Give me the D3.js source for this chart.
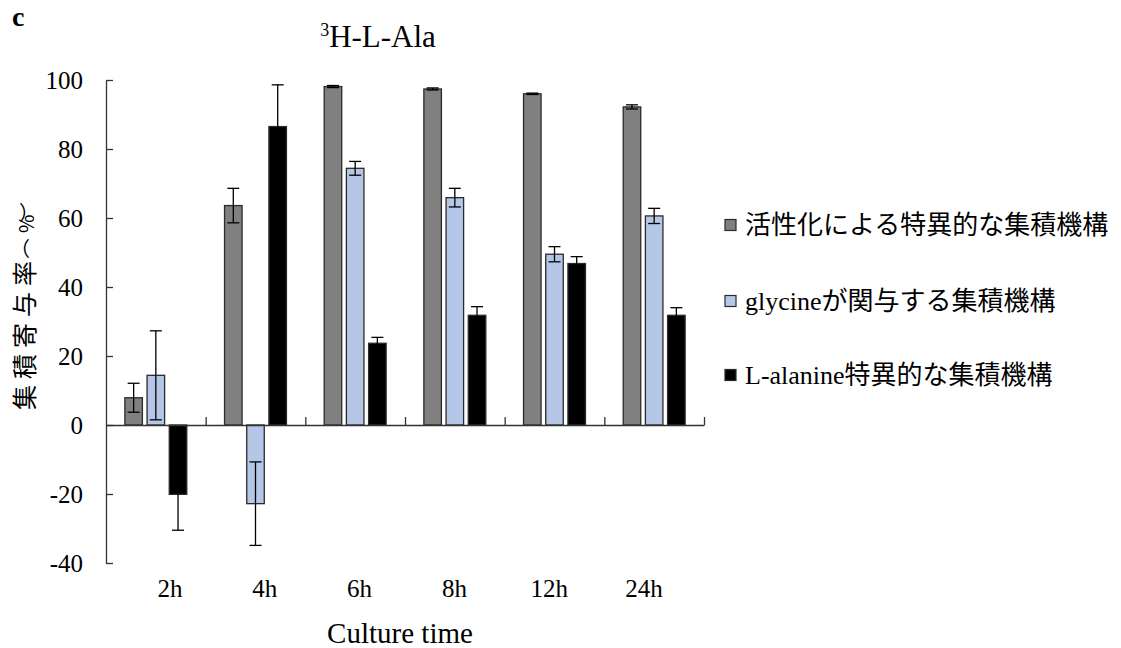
<!DOCTYPE html>
<html><head><meta charset="utf-8">
<script src="https://cdn.jsdelivr.net/npm/d3@7"></script>
<style>body{margin:0;background:#fff}svg{display:block}</style>
</head><body><svg id="chart" width="1121" height="648"></svg>
<script>
const categories = ["2h", "4h", "6h", "8h", "12h", "24h"];
const seriesNames = ["活性化による特異的な集積機構", "glycineが関与する集積機構", "L-alanine特異的な集積機構"];
const activation    = [7.9, 63.6, 98.1, 97.4, 96.0, 92.2];
const activationErr = [4.2, 5.0, 0.3, 0.3, 0.2, 0.6];
const glycine       = [14.4, -22.8, 74.4, 65.9, 49.5, 60.6];
const glycineErr    = [12.9, 12.1, 2.0, 2.7, 2.2, 2.2];
const alanine       = [-20.1, 86.5, 23.7, 31.8, 46.8, 31.8];
const alanineErr    = [10.4, 12.1, 1.7, 2.5, 2.0, 2.2];
const yTicks = [-40, -20, 0, 20, 40, 60, 80, 100];
const colors = ["#808080", "#b4c7e7", "#000000"];

(function () {
const seriesVals = [activation, glycine, alanine];
const seriesErrs = [activationErr, glycineErr, alanineErr];
const table = [];
categories.forEach((c, i) => seriesNames.forEach((s, j) =>
  table.push({cat: c, s: s, j: j, v: seriesVals[j][i], e: seriesErrs[j][i]})));

const FONT = "'Liberation Serif', 'Noto Sans CJK JP', serif";
const svg = d3.select("#chart").attr("font-family", FONT);

const pLeft = 106, pRight = 704, pTop = 80, pBottom = 563;
const y = d3.scaleLinear().domain([-40, 100]).range([pBottom, pTop]);
const x0 = d3.scaleBand().domain(categories).range([pLeft, pRight]).padding(0);
const bw = x0.bandwidth();
const x1 = d3.scaleBand().domain(seriesNames)
  .range([bw / 2 - 33.3, bw / 2 + 33.3]).paddingInner(0.21).paddingOuter(0.105);
const xLab = d3.scalePoint().domain(categories).range([170, 644]);

// bars
svg.append("g").selectAll("rect").data(table).join("rect")
  .attr("x", d => x0(d.cat) + x1(d.s))
  .attr("width", x1.bandwidth())
  .attr("y", d => y(Math.max(0, d.v)))
  .attr("height", d => Math.abs(y(d.v) - y(0)))
  .attr("fill", d => colors[d.j])
  .attr("stroke", "#2a2a2a").attr("stroke-width", 1.3);

// error bars
const eg = svg.append("g").attr("stroke", "#000").attr("stroke-width", 1.3);
const cx = d => x0(d.cat) + x1(d.s) + x1.bandwidth() / 2;
eg.selectAll("line.v").data(table).join("line").attr("class", "v")
  .attr("x1", cx).attr("x2", cx)
  .attr("y1", d => y(d.v + d.e)).attr("y2", d => y(d.v - d.e));
eg.selectAll("line.t").data(table).join("line").attr("class", "t")
  .attr("x1", d => cx(d) - 6).attr("x2", d => cx(d) + 6)
  .attr("y1", d => y(d.v + d.e)).attr("y2", d => y(d.v + d.e));
eg.selectAll("line.b").data(table).join("line").attr("class", "b")
  .attr("x1", d => cx(d) - 6).attr("x2", d => cx(d) + 6)
  .attr("y1", d => y(d.v - d.e)).attr("y2", d => y(d.v - d.e));

// y axis
const ya = svg.append("g").attr("transform", `translate(${pLeft},0)`)
  .call(d3.axisLeft(y).tickValues(yTicks).tickFormat(d => String(d))
    .tickSize(-7).tickSizeOuter(0).tickPadding(23));
ya.attr("font-family", FONT).attr("font-size", 25);
ya.selectAll("text").style("font-family", FONT).attr("fill", "#000");
ya.selectAll("line,path").attr("stroke", "#333").attr("stroke-width", 1.3);

// x axis at zero
const xb = d3.scaleLinear().domain([0, categories.length]).range([pLeft, pRight]);
const xa = svg.append("g").attr("transform", `translate(0,${y(0)})`)
  .call(d3.axisBottom(xb).tickValues(d3.range(1, categories.length + 1)).tickSize(-8).tickSizeOuter(0).tickFormat(""));
xa.selectAll("line,path").attr("stroke", "#333").attr("stroke-width", 1.3);

// x labels
svg.append("g").selectAll("text").data(categories).join("text")
  .attr("x", d => xLab(d)).attr("y", 597)
  .attr("text-anchor", "middle").attr("font-size", 25).text(d => d);

// axis titles
svg.append("text").attr("x", 400).attr("y", 643).attr("text-anchor", "middle")
  .attr("font-size", 29).text("Culture time");
const yt = svg.append("text").attr("transform", "translate(34,410) rotate(-90)")
  .attr("font-size", 25).attr("rotate", "0 0 0 0 0 90 0 90");
yt.append("tspan").attr("letter-spacing", 6).text("集積寄与率");
yt.append("tspan").attr("font-family", "'Noto Sans CJK JP', sans-serif").attr("font-size", 20)
  .attr("dx", -1).attr("dy", -24).text("（");
yt.append("tspan").attr("font-family", "'Noto Sans CJK JP', sans-serif").attr("font-size", 20)
  .attr("dx", 3).attr("dy", 24).text("%");
yt.append("tspan").attr("font-family", "'Noto Sans CJK JP', sans-serif").attr("font-size", 20)
  .attr("dx", -5).attr("dy", -15).text("）");

// title
const t = svg.append("text").attr("x", 378).attr("y", 47).attr("text-anchor", "middle").attr("font-size", 31);
t.append("tspan").attr("font-size", 18).attr("dy", -11).text("3");
t.append("tspan").attr("dy", 11).text("H-L-Ala");

svg.append("text").attr("x", 12).attr("y", 26).attr("font-size", 28).attr("font-weight", "bold").text("c");

// legend
const lg = svg.append("g").selectAll("g").data(seriesNames).join("g")
  .attr("transform", (d, i) => `translate(725,${[225, 301, 375][i]})`);
lg.append("rect").attr("x", 0).attr("y", -5.5).attr("width", 11).attr("height", 11)
  .attr("fill", (d, i) => colors[i]).attr("stroke", "#2a2a2a").attr("stroke-width", 1.2);
lg.append("text").attr("x", 20).attr("y", 0).attr("dominant-baseline", "central")
  .attr("font-size", 26).text(d => d);
})();
</script></body></html>
